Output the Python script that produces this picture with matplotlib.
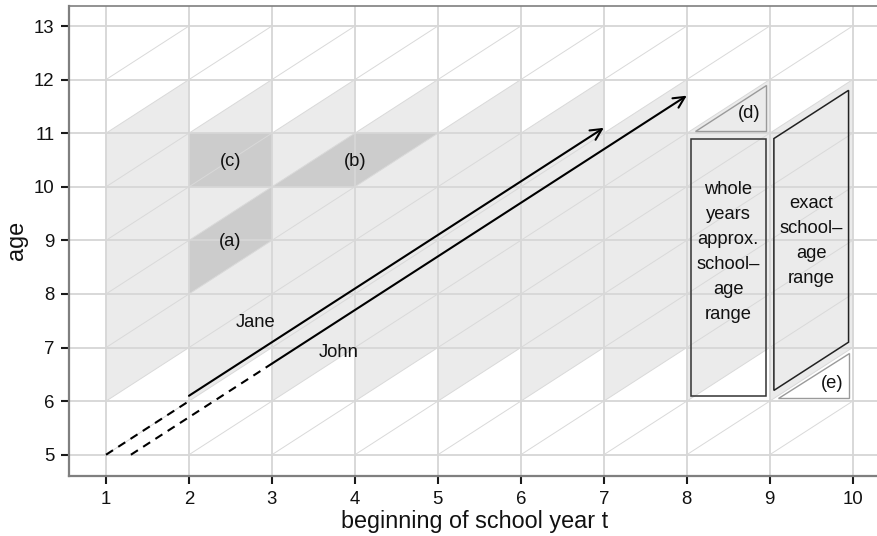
import matplotlib
matplotlib.use('Agg')
import matplotlib.pyplot as plt
from matplotlib.patches import Polygon

plt.rcParams['font.family'] = ['Liberation Sans', 'DejaVu Sans']

# ---------------- data ----------------
x_ticks = [1, 2, 3, 4, 5, 6, 7, 8, 9, 10]
y_ticks = [5, 6, 7, 8, 9, 10, 11, 12, 13]
band_years = [1, 2, 3, 4, 5, 6, 7, 8, 9]      # columns with school-age band
band_age_low, band_age_high = 6, 11

# highlighted cells (t, age) vertices
region_a_t = [2, 3, 3, 2];      region_a_age = [8, 9, 10, 9]
region_b_t = [3, 4, 5, 4];      region_b_age = [10, 10, 11, 11]
region_c_t = [2, 3, 3, 2];      region_c_age = [10, 10, 11, 11]
region_d_t = [8.1, 8.95, 8.95]; region_d_age = [11.05, 11.05, 11.9]
region_e_t = [9.1, 9.95, 9.95]; region_e_age = [6.05, 6.05, 6.9]
whole_t = [8.05, 8.95, 8.95, 8.05]; whole_age = [6.1, 6.1, 10.9, 10.9]
exact_t = [9.05, 9.95, 9.95, 9.05]; exact_age = [6.2, 7.1, 11.8, 10.9]

# life lines
jane_dash_t = [1, 2];     jane_dash_age = [5, 6]
jane_t = [2, 7];          jane_age = [6.1, 11.1]
john_dash_t = [1.3, 3];   john_dash_age = [5, 6.7]
john_t = [3, 8];          john_age = [6.7, 11.7]

labels = ["(a)", "(b)", "(c)", "(d)", "(e)", "Jane", "John",
          "whole\nyears\napprox.\nschool\u2013\nage\nrange",
          "exact\nschool\u2013\nage\nrange"]
label_t = [2.5, 4.0, 2.5, 8.75, 9.75, 2.8, 3.8, 8.5, 9.5]
label_age = [8.97, 10.47, 10.47, 11.36, 6.32, 7.47, 6.9, 8.78, 8.99]

# ---------------- figure ----------------
W, H = 878, 536
fig = plt.figure(figsize=(W / 100, H / 100), dpi=100)
left, right, bottom, top = 69, 880, 60, 530.3
ax = fig.add_axes([left / W, bottom / H, (right - left) / W, (top - bottom) / H])
ax.set_xlim(0.554, 10.329)
ax.set_ylim(4.603, 13.379)

light = '#ebebeb'
medium = '#cccccc'
grid_c = '#d6d6d6'

# school-age bands
for t in band_years:
    ax.add_patch(Polygon([(t, band_age_low), (t + 1, band_age_low + 1),
                          (t + 1, band_age_high + 1), (t, band_age_high)],
                         closed=True, facecolor=light, edgecolor='none', zorder=1))

for rt, ra in [(region_a_t, region_a_age), (region_b_t, region_b_age),
               (region_c_t, region_c_age)]:
    ax.add_patch(Polygon(list(zip(rt, ra)), closed=True, facecolor=medium,
                         edgecolor='none', zorder=1.5))

# grid
for xv in x_ticks:
    ax.axvline(xv, color=grid_c, lw=1.3, zorder=2)
for yv in y_ticks:
    ax.axhline(yv, color=grid_c, lw=1.3, zorder=2)
for t in x_ticks[:-1]:
    for a in y_ticks[:-1]:
        ax.plot([t, t + 1], [a, a + 1], color='#d9d9d9', lw=0.7, zorder=2)

# outlined shapes
ax.add_patch(Polygon(list(zip(region_d_t, region_d_age)), closed=True,
                     facecolor=light, edgecolor='#9a9a9a', lw=1.0, zorder=3))
ax.add_patch(Polygon(list(zip(region_e_t, region_e_age)), closed=True,
                     facecolor='white', edgecolor='#9a9a9a', lw=1.0, zorder=3))
ax.add_patch(Polygon(list(zip(whole_t, whole_age)), closed=True,
                     facecolor='none', edgecolor='#333333', lw=1.1, zorder=3))
ax.add_patch(Polygon(list(zip(exact_t, exact_age)), closed=True,
                     facecolor='none', edgecolor='#222222', lw=1.1, zorder=3))

# life lines
ax.plot(jane_dash_t, jane_dash_age, color='black', lw=1.5, ls=(0, (4, 3)), zorder=4)
ax.plot(john_dash_t, john_dash_age, color='black', lw=1.5, ls=(0, (4, 3)), zorder=4)
for tt, aa in [(jane_t, jane_age), (john_t, john_age)]:
    ax.annotate('', xy=(tt[1], aa[1]), xytext=(tt[0], aa[0]),
                arrowprops=dict(arrowstyle='->', lw=1.5, color='black',
                                mutation_scale=20, shrinkA=0, shrinkB=0),
                zorder=4)

for s, xx, yy in zip(labels, label_t, label_age):
    ax.text(xx, yy, s, ha='center', va='center', fontsize=13.2,
            linespacing=1.62, color='#111111', zorder=5)

# axes styling
ax.set_xticks(x_ticks)
ax.set_yticks(y_ticks)
ax.tick_params(axis='both', length=5.5, width=1.5, color='#1a1a1a',
               labelsize=13.4, labelcolor='#111111', pad=5)
for side in ['left', 'bottom', 'top']:
    ax.spines[side].set_color('#7f7f7f')
    ax.spines[side].set_linewidth(1.6)
ax.spines['top'].set_linewidth(1.2)
ax.spines['right'].set_visible(False)
ax.set_xlabel('beginning of school year t', fontsize=16.8, labelpad=2, color='#111111')
ax.set_ylabel('age', fontsize=16.8, labelpad=4, color='#111111')

fig.savefig('out.png', dpi=100)
